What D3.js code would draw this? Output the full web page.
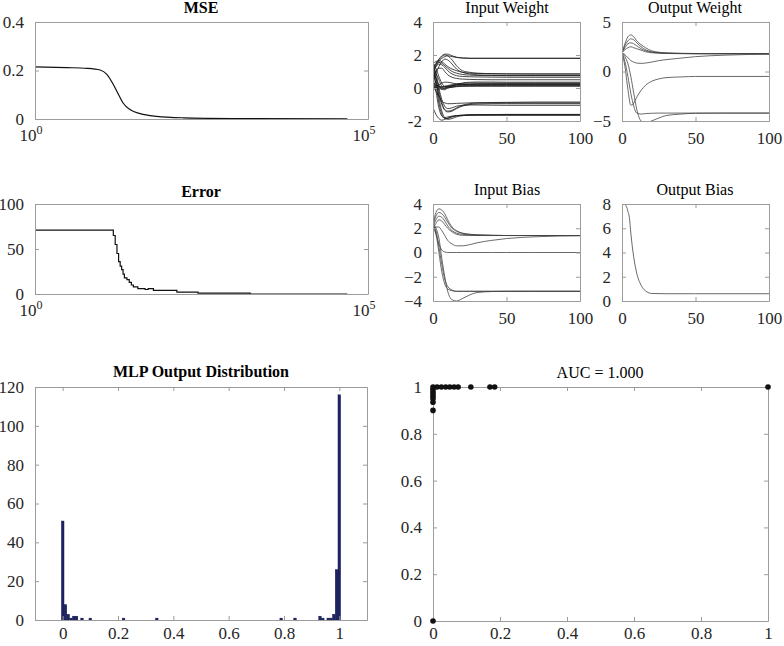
<!DOCTYPE html>
<html><head><meta charset="utf-8">
<script src="https://cdn.jsdelivr.net/npm/d3@7"></script>
<style>
html,body{margin:0;padding:0;background:#fff;}
svg{display:block;}
</style></head><body>
<svg id="c" width="784" height="646"></svg>
<script>
// ---------------- DATA ----------------
const mseEpochs = [1, 3, 6, 9.5, 12, 15, 18, 21, 27, 38, 67, 169, 955, 49000];
const mseValues = [0.215, 0.212, 0.209, 0.202, 0.184, 0.142, 0.100, 0.066, 0.038, 0.022, 0.011, 0.005, 0.002, 0.0005];

const errEpochs = [1, 14, 15, 16, 17, 18, 19, 20, 21, 22, 24, 26, 28, 30, 35, 40, 45, 50, 60, 135, 280, 1700, 49000];
const errValues = [71, 71, 65, 55, 45, 36, 31, 27, 22, 18, 16, 13, 10, 8, 6, 6, 5, 6, 4, 2, 1, 0, 0];

const trainEpochs = [0, 2, 4, 6, 8, 10, 13, 16, 20, 25, 30, 40, 50, 70, 100];

const inputWeights = [
  [1.3, 1.5, 1.75, 1.95, 2.05, 2.05, 1.95, 1.87, 1.82, 1.8, 1.8, 1.8, 1.8, 1.8, 1.8],
  [0.9, 1.3, 1.6, 1.8, 1.9, 1.95, 1.9, 1.85, 1.82, 1.8, 1.8, 1.8, 1.8, 1.8, 1.8],
  [1.5, 1.6, 1.65, 1.6, 1.45, 1.3, 1.15, 1.05, 0.95, 0.9, 0.88, 0.86, 0.85, 0.85, 0.85],
  [1.2, 1.45, 1.55, 1.5, 1.35, 1.2, 1.0, 0.9, 0.82, 0.78, 0.76, 0.75, 0.75, 0.75, 0.75],
  [1.0, 1.3, 1.45, 1.4, 1.25, 1.05, 0.85, 0.75, 0.7, 0.68, 0.67, 0.66, 0.65, 0.65, 0.65],
  [0.7, 1.0, 1.2, 1.2, 1.0, 0.8, 0.65, 0.58, 0.54, 0.52, 0.51, 0.5, 0.5, 0.5, 0.5],
  [1.1, 1.4, 1.7, 1.9, 2.0, 1.95, 1.7, 1.35, 1.05, 0.95, 0.9, 0.87, 0.86, 0.85, 0.85],
  [0.5, 0.9, 1.3, 1.6, 1.75, 1.7, 1.45, 1.15, 0.95, 0.85, 0.8, 0.77, 0.75, 0.75, 0.75],
  [0.2, 0.15, 0.1, 0.08, 0.1, 0.15, 0.2, 0.25, 0.28, 0.3, 0.3, 0.3, 0.3, 0.3, 0.3],
  [0.0, 0.05, 0.05, 0.05, 0.08, 0.1, 0.15, 0.18, 0.2, 0.22, 0.24, 0.25, 0.25, 0.25, 0.25],
  [0.1, 0.0, -0.05, -0.05, 0.0, 0.05, 0.1, 0.13, 0.15, 0.17, 0.18, 0.19, 0.2, 0.2, 0.2],
  [1.3, 0.9, 0.5, 0.1, -0.05, 0.0, 0.05, 0.1, 0.12, 0.14, 0.15, 0.15, 0.15, 0.15, 0.15],
  [1.0, 0.6, 0.2, -0.1, -0.1, 0.0, 0.05, 0.08, 0.1, 0.1, 0.1, 0.1, 0.1, 0.1, 0.1],
  [0.3, 0.2, 0.1, 0.0, 0.0, 0.05, 0.1, 0.2, 0.3, 0.35, 0.36, 0.36, 0.35, 0.35, 0.35],
  [1.5, 1.2, 0.7, 0.3, 0.1, 0.1, 0.15, 0.2, 0.22, 0.24, 0.25, 0.25, 0.25, 0.25, 0.25],
  [0.05, 0.1, 0.2, 0.3, 0.35, 0.35, 0.3, 0.25, 0.22, 0.2, 0.2, 0.2, 0.2, 0.2, 0.2],
  [1.2, 0.6, -0.2, -0.9, -1.3, -1.4, -1.35, -1.2, -1.05, -0.95, -0.9, -0.88, -0.87, -0.85, -0.85],
  [0.8, 0.3, -0.4, -1.0, -1.35, -1.45, -1.4, -1.25, -1.1, -1.0, -0.97, -0.95, -0.95, -0.95, -0.95],
  [1.4, 0.9, 0.0, -0.7, -1.1, -1.25, -1.2, -1.1, -1.05, -1.03, -1.03, -1.04, -1.05, -1.05, -1.05],
  [0.1, -0.2, -0.5, -0.8, -0.9, -0.95, -0.95, -0.93, -0.92, -0.9, -0.9, -0.9, -0.9, -0.9, -0.9],
  [1.3, 0.5, -0.6, -1.4, -1.8, -1.9, -1.85, -1.75, -1.68, -1.63, -1.62, -1.61, -1.6, -1.6, -1.6],
  [1.0, 0.2, -0.9, -1.6, -1.85, -1.85, -1.75, -1.68, -1.65, -1.63, -1.63, -1.63, -1.63, -1.63, -1.63],
  [0.6, -0.2, -1.2, -1.7, -1.8, -1.75, -1.7, -1.67, -1.66, -1.65, -1.65, -1.65, -1.65, -1.65, -1.65],
  [-1.2, -1.6, -1.85, -1.95, -1.9, -1.82, -1.74, -1.68, -1.65, -1.63, -1.62, -1.62, -1.62, -1.62, -1.62]
];

const outputWeights = [
  [1.9, 2.8, 3.5, 3.7, 3.5, 3.1, 2.7, 2.4, 2.1, 1.95, 1.88, 1.84, 1.82, 1.8, 1.8],
  [1.9, 2.6, 3.1, 3.3, 3.2, 2.9, 2.5, 2.2, 2.0, 1.9, 1.85, 1.82, 1.8, 1.8, 1.8],
  [1.9, 2.4, 2.8, 2.9, 2.8, 2.6, 2.3, 2.1, 1.95, 1.88, 1.84, 1.82, 1.8, 1.8, 1.8],
  [1.9, 2.2, 2.4, 2.5, 2.4, 2.3, 2.15, 2.0, 1.9, 1.85, 1.82, 1.8, 1.8, 1.8, 1.8],
  [1.9, 1.7, 1.4, 1.1, 0.95, 0.85, 0.82, 0.85, 0.95, 1.1, 1.2, 1.35, 1.5, 1.65, 1.75],
  [1.9, 0.5, -1.8, -3.4, -3.2, -2.6, -1.9, -1.4, -1.0, -0.75, -0.62, -0.55, -0.5, -0.5, -0.5],
  [1.9, 1.0, -0.5, -2.2, -3.5, -4.2, -4.3, -4.25, -4.22, -4.2, -4.2, -4.2, -4.2, -4.2, -4.2],
  [1.9, 1.5, 0.8, -0.5, -2.2, -3.8, -5.0, -5.2, -5.0, -4.7, -4.45, -4.3, -4.22, -4.2, -4.2]
];

const inputBiases = [
  [2.3, 3.3, 3.6, 3.5, 3.2, 2.7, 2.1, 1.8, 1.6, 1.5, 1.45, 1.42, 1.4, 1.4, 1.4],
  [2.2, 3.0, 3.3, 3.2, 2.9, 2.5, 2.0, 1.75, 1.58, 1.5, 1.45, 1.42, 1.4, 1.4, 1.4],
  [2.1, 2.7, 3.0, 2.9, 2.6, 2.2, 1.8, 1.6, 1.5, 1.45, 1.42, 1.4, 1.4, 1.4, 1.4],
  [2.0, 2.4, 2.7, 2.6, 2.3, 2.0, 1.7, 1.5, 1.42, 1.4, 1.4, 1.4, 1.4, 1.4, 1.4],
  [2.0, 2.1, 2.1, 1.8, 1.4, 1.0, 0.7, 0.55, 0.55, 0.65, 0.8, 1.0, 1.15, 1.3, 1.38],
  [2.2, 1.5, 0.7, 0.2, 0.05, 0.0, 0.0, 0.0, 0.0, 0.0, 0.0, 0.0, 0.0, 0.0, 0.0],
  [2.2, 1.8, 0.5, -1.0, -2.2, -2.8, -3.1, -3.2, -3.2, -3.2, -3.2, -3.2, -3.2, -3.2, -3.2],
  [2.3, 1.6, 0.0, -1.6, -2.6, -3.0, -3.15, -3.2, -3.2, -3.2, -3.2, -3.2, -3.2, -3.2, -3.2],
  [2.4, 2.0, 1.2, -0.5, -2.0, -3.2, -3.9, -4.0, -3.8, -3.5, -3.3, -3.22, -3.2, -3.2, -3.2]
];

const outBiasEpochs = [0, 1, 2, 3, 4, 5, 6, 8, 10, 13, 17, 20, 30, 50, 100];
const outBiasValues = [8.0, 8.0, 7.95, 7.8, 7.4, 6.9, 5.6, 3.6, 2.3, 1.3, 0.75, 0.62, 0.6, 0.6, 0.6];

const histCenters = [0, 0.01, 0.02, 0.03, 0.04, 0.05, 0.07, 0.10, 0.22, 0.34, 0.79, 0.84, 0.93, 0.94, 0.96, 0.97, 0.98, 0.99, 1.0];
const histCounts  = [51, 8, 3, 1, 2, 2, 1, 1, 1, 1, 1, 1, 2, 1, 1, 1, 3, 26, 116];

const rocFPR = [0, 0, 0, 0, 0, 0, 0, 0, 0, 0.012, 0.025, 0.038, 0.05, 0.063, 0.075, 0.113, 0.17, 0.184, 1];
const rocTPR = [0, 0.90, 0.935, 0.95, 0.96, 0.97, 0.98, 0.99, 1, 1, 1, 1, 1, 1, 1, 1, 1, 1, 1];

const logTicks = [1, 1e5];
const weightXTicks = [0, 50, 100];
const mseYTicks = [0, 0.2, 0.4];
const errYTicks = [0, 50, 100];
const inWYTicks = [-2, 0, 2, 4];
const outWYTicks = [-5, 0, 5];
const inBYTicks = [-4, -2, 0, 2, 4];
const outBYTicks = [0, 2, 4, 6, 8];
const histXTicks = [0, 0.2, 0.4, 0.6, 0.8, 1];
const histYTicks = [0, 20, 40, 60, 80, 100, 120];
const rocTicks = [0, 0.2, 0.4, 0.6, 0.8, 1];

// ---------------- DRAWING ----------------
const svg = d3.select("#c");
const FONT = "'Liberation Serif', 'Times New Roman', serif";
const AXC = "#9c9c9c", TXC = "#262626", TSIZE = 17;
const fmt = d3.format("~g");

function axes(x, y, o) {
  const [xl, xr] = x.range(), [yb, yt] = y.range();
  const tl = 4;
  const style = s => {
    s.attr("font-family", FONT).attr("font-size", TSIZE);
    s.selectAll("path.domain").attr("stroke", AXC).attr("stroke-width", 1);
    s.selectAll(".tick line").attr("stroke", AXC);
    s.selectAll(".tick text").attr("fill", TXC);
  };
  svg.append("g").attr("transform", `translate(0,${yb})`)
    .call(d3.axisBottom(x).tickValues(o.xTicks).tickSize(-tl).tickSizeOuter(0).tickPadding(o.xPad ?? 11).tickFormat(o.xFmt || (() => "")))
    .call(style);
  svg.append("g").attr("transform", `translate(0,${yt})`)
    .call(d3.axisTop(x).tickValues(o.xTicks).tickSize(-tl).tickSizeOuter(0).tickFormat(() => ""))
    .call(style);
  svg.append("g").attr("transform", `translate(${xl},0)`)
    .call(d3.axisLeft(y).tickValues(o.yTicks).tickSize(-tl).tickSizeOuter(0).tickPadding(11).tickFormat(o.yFmt || fmt))
    .call(style);
  svg.append("g").attr("transform", `translate(${xr},0)`)
    .call(d3.axisRight(y).tickValues(o.yTicks).tickSize(-tl).tickSizeOuter(0).tickFormat(() => ""))
    .call(style);
}

let clipN = 0;
function clipFor(x, y) {
  const [xl, xr] = x.range(), [yb, yt] = y.range();
  const id = "clip" + (clipN++);
  svg.append("clipPath").attr("id", id).append("rect")
    .attr("x", xl).attr("y", yt).attr("width", xr - xl).attr("height", yb - yt);
  return `url(#${id})`;
}

function title(text, cx, y, bold) {
  svg.append("text").attr("x", cx).attr("y", y).attr("text-anchor", "middle")
    .attr("font-family", FONT).attr("font-size", 16)
    .attr("font-weight", bold ? "bold" : "normal").attr("fill", "#000").text(text);
}

function logLabels(x, yb) {
  const g = svg.append("g").attr("font-family", FONT).attr("fill", TXC);
  logTicks.forEach(t => {
    const e = Math.round(Math.log10(t));
    const tx = g.append("text").attr("x", x(t) - 4).attr("y", yb + 22).attr("text-anchor", "middle").attr("font-size", TSIZE);
    tx.append("tspan").text("10");
    tx.append("tspan").attr("font-size", 12).attr("dy", -7).text(e);
  });
}

// MSE
{
  const x = d3.scaleLog().domain([1, 1e5]).range([35, 368]);
  const y = d3.scaleLinear().domain([0, 0.4]).range([119, 22]);
  const cp = clipFor(x, y);
  const line = d3.line().x((d, i) => x(mseEpochs[i])).y(d => y(d)).curve(d3.curveMonotoneX);
  svg.append("path").datum(mseValues).attr("d", line).attr("fill", "none").attr("stroke", "#111").attr("stroke-width", 1.2).attr("clip-path", cp);
  axes(x, y, { xTicks: logTicks, yTicks: mseYTicks });
  logLabels(x, 119);
  title("MSE", 201, 13, true);
}
// Error
{
  const x = d3.scaleLog().domain([1, 1e5]).range([35, 368]);
  const y = d3.scaleLinear().domain([0, 100]).range([294, 204]);
  const cp = clipFor(x, y);
  const line = d3.line().x((d, i) => x(errEpochs[i])).y(d => y(d)).curve(d3.curveStepAfter);
  svg.append("path").datum(errValues).attr("d", line).attr("fill", "none").attr("stroke", "#111").attr("stroke-width", 1.2).attr("clip-path", cp);
  axes(x, y, { xTicks: logTicks, yTicks: errYTicks });
  logLabels(x, 294);
  title("Error", 201, 197, true);
}

function trajPanel(series, epochs, yDom, yTicks, x0, x1, yb, yt, yFmt, color, sw) {
  const x = d3.scaleLinear().domain([0, 100]).range([x0, x1]);
  const y = d3.scaleLinear().domain(yDom).range([yb, yt]);
  const cp = clipFor(x, y);
  const line = d3.line().x((d, i) => x(epochs[i])).y(d => y(d)).curve(d3.curveMonotoneX);
  svg.append("g").attr("clip-path", cp).selectAll("path").data(series).join("path")
    .attr("d", line).attr("fill", "none").attr("stroke", color).attr("stroke-width", sw);
  axes(x, y, { xTicks: weightXTicks, yTicks, xFmt: fmt, yFmt });
}

trajPanel(inputWeights, trainEpochs, [-2, 4], inWYTicks, 433, 580, 121, 22, d => String(d), "#1a1a1a", 0.8);
title("Input Weight", 507, 13, false);
trajPanel(outputWeights, trainEpochs, [-5, 5], outWYTicks, 622, 769, 121, 22, fmt, "#444", 0.8);
title("Output Weight", 695, 13, false);
trajPanel(inputBiases, trainEpochs, [-4, 4], inBYTicks, 433, 580, 301, 204, fmt, "#444", 0.8);
title("Input Bias", 507, 195, false);
trajPanel([outBiasValues], outBiasEpochs, [0, 8], outBYTicks, 622, 769, 301, 204, fmt, "#444", 0.8);
title("Output Bias", 695, 195, false);

// Histogram
{
  const x = d3.scaleLinear().domain([-0.1, 1.1]).range([35, 367]);
  const y = d3.scaleLinear().domain([0, 120]).range([620, 387]);
  const bw = 0.01;
  svg.append("g").selectAll("rect").data(histCenters).join("rect")
    .attr("x", d => x(d - bw / 2)).attr("width", d => x(d + bw / 2) - x(d - bw / 2))
    .attr("y", (d, i) => y(histCounts[i])).attr("height", (d, i) => y(0) - y(histCounts[i]))
    .attr("fill", "#1d2463").attr("stroke", "#141a4a").attr("stroke-width", 0.3);
  axes(x, y, { xTicks: histXTicks, yTicks: histYTicks, xFmt: fmt, xPad: 7 });
  title("MLP Output Distribution", 201, 377, true);
}
// ROC
{
  const x = d3.scaleLinear().domain([0, 1]).range([433, 768]);
  const y = d3.scaleLinear().domain([0, 1]).range([621, 387]);
  axes(x, y, { xTicks: rocTicks, yTicks: rocTicks, xFmt: fmt, xPad: 6 });
  svg.append("g").selectAll("circle").data(rocFPR).join("circle")
    .attr("cx", d => x(d)).attr("cy", (d, i) => y(rocTPR[i])).attr("r", 2.8).attr("fill", "#111");
  title("AUC = 1.000", 600, 378, false);
}
</script>
</body></html>
